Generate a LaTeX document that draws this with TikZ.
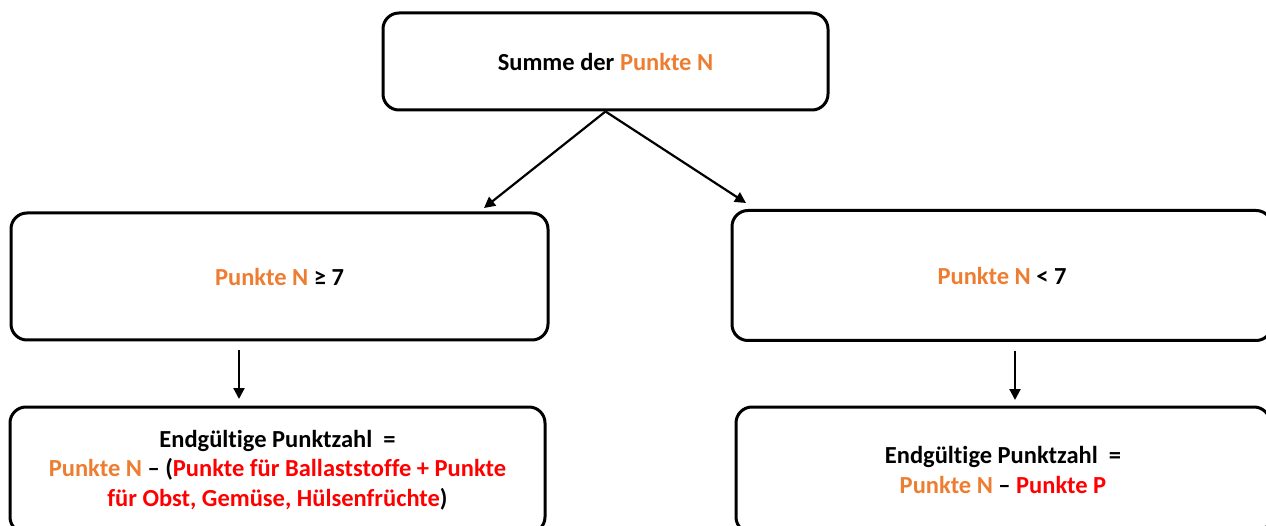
\documentclass[tikz,border=0pt]{standalone}
\usepackage{fontspec}
\setmainfont[Ligatures={NoCommon}]{Carlito}
\usetikzlibrary{arrows.meta}
\definecolor{orn}{HTML}{ED7D31}
\definecolor{rd}{HTML}{FF0000}
\tikzset{
  box/.style={draw=black, line width=3pt, rounded corners=16pt, align=center,
    font=\fontsize{24.5}{29.5}\selectfont\bfseries, inner sep=0pt},
  arr/.style={line width=2.2pt, -{Triangle[length=11pt,width=11pt]}}
}
\begin{document}
\begin{tikzpicture}[x=1pt,y=-1pt]
\useasboundingbox (0,0) rectangle (1266,526);
\clip (0,0) rectangle (1266,526);
\node[box, minimum width=445pt, minimum height=97pt] (top) at (605.5,61.5) {Summe der \textcolor{orn}{Punkte N}};
\node[box, minimum width=537pt, minimum height=127pt] (lm) at (279.5,276.5) {\textcolor{orn}{Punkte N} ≥ 7};
\node[box, minimum width=540pt, minimum height=130pt] (rm) at (1002,275.5) {\textcolor{orn}{Punkte N} < 7};
\node[box, minimum width=535pt, minimum height=126pt] (lb) at (277.5,470) {Endgültige Punktzahl\ \ =\\ \textcolor{orn}{Punkte N} – (\textcolor{rd}{Punkte für Ballaststoffe + Punkte}\\ \textcolor{rd}{für Obst, Gemüse, Hülsenfrüchte})};
\node[box, minimum width=534pt, minimum height=126pt] (rb) at (1003,470) {Endgültige Punktzahl\ \ =\\ \textcolor{orn}{Punkte N} – \textcolor{rd}{Punkte P}};
\coordinate (a1) at (484,208);
\coordinate (a2) at (746,203);
\coordinate (l1) at (239,350);
\coordinate (l2) at (239,399);
\coordinate (r1) at (1015,351);
\coordinate (r2) at (1015,400);
\draw[arr] (top.south) -- (a1);
\draw[arr] (top.south) -- (a2);
\draw[arr] (l1) -- (l2);
\draw[arr] (r1) -- (r2);
\end{tikzpicture}
\end{document}
